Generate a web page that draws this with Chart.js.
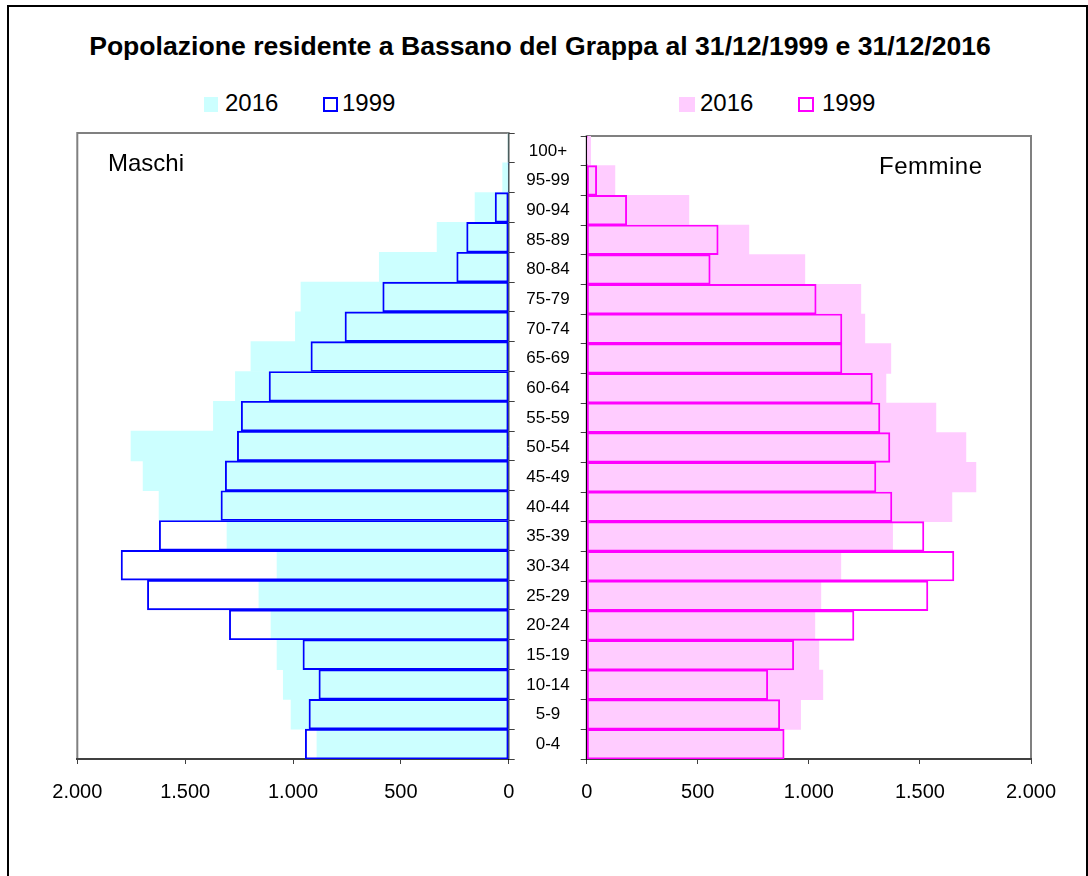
<!DOCTYPE html>
<html lang="it">
<head>
<meta charset="utf-8">
<title>Popolazione residente a Bassano del Grappa</title>
<script src="https://cdn.jsdelivr.net/npm/chart.js@4.4.1/dist/chart.umd.min.js"></script>
<style>
  body {
    margin: 0;
    width: 1088px;
    height: 876px;
    overflow: hidden;
    position: relative;
    background: #fff;
    color: #000;
    font-family: "Liberation Sans", Arial, sans-serif;
  }
  .frame {
    position: absolute;
    left: 7px;
    top: 5px;
    width: 1077px;
    height: 900px;
    border: 2px solid #000;
  }
  .title {
    position: absolute;
    left: 0;
    top: 33px;
    width: 1080px;
    text-align: center;
    font-weight: bold;
    font-size: 26.6px;
    line-height: 26px;
  }
  .txt {
    position: absolute;
    font-size: 24px;
    line-height: 24px;
    white-space: nowrap;
  }
  .sw {
    position: absolute;
    width: 14px;
    height: 15px;
    box-sizing: border-box;
  }
  canvas { position: absolute; }
</style>
</head>
<body>
<div class="frame"></div>
<div class="title">Popolazione residente a Bassano del Grappa al 31/12/1999 e 31/12/2016</div>

<!-- legende -->
<div class="sw" style="left:204px; top:97px; background:#ccffff;"></div>
<div class="txt" style="left:225px; top:91px;">2016</div>
<div class="sw" style="left:323px; top:97px; width:15px; border:2px solid #0000ff;"></div>
<div class="txt" style="left:342px; top:91px;">1999</div>

<div class="sw" style="left:679px; top:97px; width:16px; background:#ffccff;"></div>
<div class="txt" style="left:700px; top:91px;">2016</div>
<div class="sw" style="left:798px; top:97px; width:16px; border:2px solid #ff00ff;"></div>
<div class="txt" style="left:822px; top:91px;">1999</div>

<canvas id="maschiChart" width="520" height="720" style="left:10px; top:110px;"></canvas>
<canvas id="femmineChart" width="600" height="720" style="left:480px; top:110px;"></canvas>

<div class="txt" style="left:108px; top:151px;">Maschi</div>
<div class="txt" style="left:879px; top:154px; letter-spacing:0.5px;">Femmine</div>

<script>
// classi di età, dal basso verso l'alto
const ageGroups = ["0-4", "5-9", "10-14", "15-19", "20-24", "25-29", "30-34", "35-39", "40-44", "45-49",
    "50-54", "55-59", "60-64", "65-69", "70-74", "75-79", "80-84", "85-89", "90-94", "95-99", "100+"];

const males2016 = [889, 1009, 1045, 1074, 1102, 1158, 1074, 1306, 1621, 1695,
    1751, 1369, 1267, 1195, 989, 963, 600, 332, 156, 28, 3];
const males1999 = [943, 926, 880, 954, 1295, 1675, 1797, 1620, 1334, 1314,
    1258, 1240, 1111, 917, 759, 584, 241, 195, 63, 3, 0];

const females2016 = [885, 963, 1063, 1045, 1027, 1054, 1144, 1377, 1644, 1752,
    1707, 1572, 1347, 1369, 1252, 1234, 982, 730, 460, 127, 18];
const females1999 = [889, 869, 815, 932, 1203, 1536, 1653, 1518, 1374, 1302,
    1365, 1320, 1286, 1149, 1149, 1033, 556, 592, 180, 45, 3];

const xTicks = [0, 500, 1000, 1500, 2000];

const FONT = "'Liberation Sans', Arial, sans-serif";

// 1.000 / 2.000 with the italian thousands dot
function formatNum(v) {
    return String(v).replace(/\B(?=(\d{3})+(?!\d))/g, ".");
}

/* gray frame around the plot area, drawn before the axes */
const plotFrame = {
    id: "plotFrame",
    beforeDraw(chart) {
        const { ctx, chartArea } = chart;
        ctx.save();
        ctx.strokeStyle = "#808080";
        ctx.lineWidth = 2;
        ctx.strokeRect(chartArea.left, chartArea.top, chartArea.right - chartArea.left, chartArea.bottom - chartArea.top);
        ctx.restore();
    }
};

function barSets(data2016, data1999, fill, line) {
    return [
        {
            label: "1999",
            data: data1999,
            backgroundColor: "rgba(0,0,0,0)",
            borderColor: line,
            borderWidth: 1.25,
            borderSkipped: false,
            grouped: false,
            order: 0,
            barPercentage: 1,
            categoryPercentage: 1
        },
        {
            label: "2016",
            data: data2016,
            backgroundColor: fill,
            borderWidth: 0,
            grouped: false,
            order: 1,
            barPercentage: 1,
            categoryPercentage: 1
        }
    ];
}

function xScale(reverse) {
    return {
        reverse: reverse,
        min: 0,
        max: 2000,
        afterBuildTicks: (scale) => { scale.ticks = xTicks.map(v => ({ value: v })); },
        afterFit: (scale) => { scale.height = 50; },
        border: { color: "#404040", width: 2 },
        grid: { drawOnChartArea: false, tickLength: 5, color: "#404040" },
        ticks: {
            padding: 16,
            color: "#000",
            font: { family: FONT, size: 20 },
            callback: (v) => formatNum(v)
        }
    };
}

/* Maschi: asse invertito, etichette a destra nascoste */
new Chart(document.getElementById("maschiChart"), {
    type: "bar",
    data: { labels: ageGroups, datasets: barSets(males2016, males1999, "#ccffff", "#0000ff") },
    options: {
        indexAxis: "y",
        responsive: false,
        animation: false,
        layout: { padding: { left: 67.3, right: 11.3, top: 23, bottom: 21 } },
        plugins: { legend: { display: false }, tooltip: { enabled: false } },
        scales: {
            x: xScale(true),
            y: {
                position: "right",
                reverse: true,
                afterFit: (scale) => { scale.width = 10; },
                border: { color: "#000", width: 1 },
                grid: { drawOnChartArea: false, tickLength: 6, color: "#404040" },
                ticks: { display: false }
            }
        }
    },
    plugins: [plotFrame]
});

/* Femmine: le classi di età stanno sull'asse sinistro */
new Chart(document.getElementById("femmineChart"), {
    type: "bar",
    data: { labels: ageGroups, datasets: barSets(females2016, females1999, "#ffccff", "#ff00ff") },
    options: {
        indexAxis: "y",
        responsive: false,
        animation: false,
        layout: { padding: { left: 6.7, right: 49, top: 26, bottom: 21 } },
        plugins: { legend: { display: false }, tooltip: { enabled: false } },
        scales: {
            x: xScale(false),
            y: {
                position: "left",
                reverse: true,
                afterFit: (scale) => { scale.width = 100; },
                border: { color: "#000", width: 1 },
                grid: { drawOnChartArea: false, tickLength: 6, color: "#404040" },
                ticks: {
                    autoSkip: false,
                    crossAlign: "center",
                    padding: 11,
                    color: "#000",
                    font: { family: FONT, size: 17 }
                }
            }
        }
    },
    plugins: [plotFrame]
});
</script>
</body>
</html>
